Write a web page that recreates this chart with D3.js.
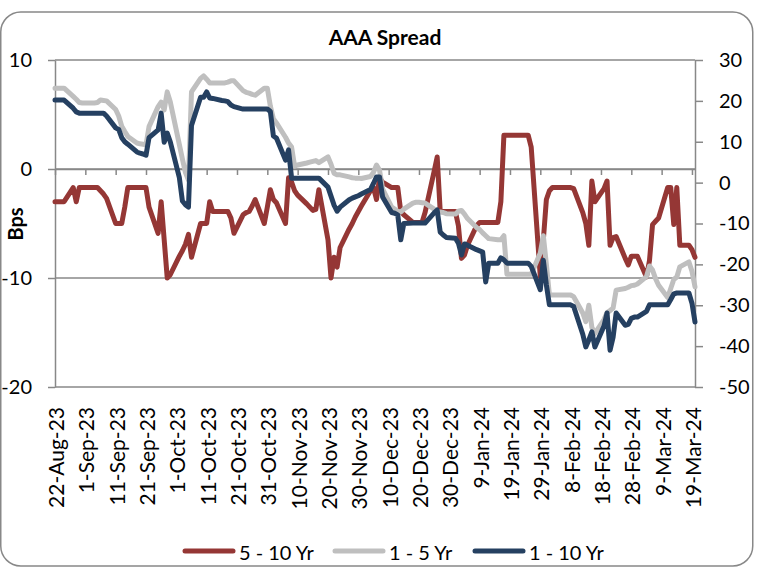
<!DOCTYPE html>
<html>
<head>
<meta charset="utf-8">
<script src="https://cdn.jsdelivr.net/npm/d3@7"></script>
<style>
  html, body { margin: 0; padding: 0; background: #fff; }
  svg { display: block; font-family: Lato, "Open Sans", sans-serif; }
</style>
</head>
<body>
<div id="chart"></div>
<script>
// business days, 22-Aug-23 .. 20-Mar-24
const dates = [
  "22-Aug-23","23-Aug-23","24-Aug-23","25-Aug-23","28-Aug-23","29-Aug-23","30-Aug-23","31-Aug-23",
  "1-Sep-23","4-Sep-23","5-Sep-23","6-Sep-23","7-Sep-23","8-Sep-23","11-Sep-23","12-Sep-23","13-Sep-23","14-Sep-23","15-Sep-23",
  "18-Sep-23","19-Sep-23","20-Sep-23","21-Sep-23","22-Sep-23","25-Sep-23","26-Sep-23","27-Sep-23","28-Sep-23","29-Sep-23",
  "2-Oct-23","3-Oct-23","4-Oct-23","5-Oct-23","6-Oct-23","9-Oct-23","10-Oct-23","11-Oct-23","12-Oct-23","13-Oct-23",
  "16-Oct-23","17-Oct-23","18-Oct-23","19-Oct-23","20-Oct-23","23-Oct-23","24-Oct-23","25-Oct-23","26-Oct-23","27-Oct-23","30-Oct-23","31-Oct-23",
  "1-Nov-23","2-Nov-23","3-Nov-23","6-Nov-23","7-Nov-23","8-Nov-23","9-Nov-23","10-Nov-23","13-Nov-23","14-Nov-23","15-Nov-23",
  "16-Nov-23","17-Nov-23","20-Nov-23","21-Nov-23","22-Nov-23","23-Nov-23","24-Nov-23","27-Nov-23","28-Nov-23","29-Nov-23","30-Nov-23",
  "1-Dec-23","4-Dec-23","5-Dec-23","6-Dec-23","7-Dec-23","8-Dec-23","11-Dec-23","12-Dec-23","13-Dec-23","14-Dec-23","15-Dec-23",
  "18-Dec-23","19-Dec-23","20-Dec-23","21-Dec-23","22-Dec-23","25-Dec-23","26-Dec-23","27-Dec-23","28-Dec-23","29-Dec-23",
  "1-Jan-24","2-Jan-24","3-Jan-24","4-Jan-24","5-Jan-24","8-Jan-24","9-Jan-24","10-Jan-24","11-Jan-24","12-Jan-24",
  "15-Jan-24","16-Jan-24","17-Jan-24","18-Jan-24","19-Jan-24","22-Jan-24","23-Jan-24","24-Jan-24","25-Jan-24","26-Jan-24","29-Jan-24","30-Jan-24","31-Jan-24",
  "1-Feb-24","2-Feb-24","5-Feb-24","6-Feb-24","7-Feb-24","8-Feb-24","9-Feb-24","12-Feb-24","13-Feb-24","14-Feb-24","15-Feb-24","16-Feb-24",
  "19-Feb-24","20-Feb-24","21-Feb-24","22-Feb-24","23-Feb-24","26-Feb-24","27-Feb-24","28-Feb-24","29-Feb-24",
  "1-Mar-24","4-Mar-24","5-Mar-24","6-Mar-24","7-Mar-24","8-Mar-24","11-Mar-24","12-Mar-24","13-Mar-24","14-Mar-24","15-Mar-24",
  "18-Mar-24","19-Mar-24","20-Mar-24"
];

// 5 - 10 Yr, left axis (bps)
const spread5to10 = [
  -3, -3, -3, -3, -1.7, -3, -1.7, -1.7,
  -1.7, -1.7, -1.7, -2, -2.3, -2.7, -5, -5, -5, -3.5, -1.7, -1.7, -1.7, -1.7, -1.7, -3.5, -5.9, -3, -6.5, -10, -9.7,
  -8, -7.5, -6.9, -6, -8.1, -5, -5, -5, -3, -3.9, -3.9, -3.9, -3.9, -4.5, -5.9, -4.2, -4, -3.9, -3.4, -2.8, -5, -3.5,
  -1.9, -2.8, -3.1, -5, -0.8, -1.2, -2, -2.4, -3.2, -3.5, -3.8, -3.7, -1.9, -6.5, -10, -8.1, -9, -7.2, -5.5, -5, -4.4, -3.9,
  -3.4, -2, -1.7, -2.8, -0.8, -1.2, -1.7, -1.7, -1.7, -3.9, -4.2, -4.9, -4.9, -4.9, -4.9, -4, -0.2, 1.1, -3.9, -3.9, -3.9,
  -3.9, -5.2, -8.2, -7.9, -7, -5.2, -4.9, -4.9, -4.9, -4.9, -4.9, -3, 3.1, 3.1, 3.1, 3.1, 3.1, 3.1, 3.1, 2, -9.9, -6.5, -2.8,
  -2, -1.7, -1.7, -1.7, -1.7, -1.7, -1.8, -4, -5, -7, -1.1, -3, -1.8, -1.1, -7, -6.3, -6.2, -8.2, -8.8, -8, -8,
  -8, -9.9, -8.4, -5.1, -4.8, -4.5, -1.7, -1.7, -5.1, -1.7, -7, -7, -7.4, -8.1
];

// 1 - 5 Yr, right axis (bps)
const spread1to5 = [
  23.1, 23.1, 23.1, 23.1, 21.1, 20.4, 19.6, 19.5,
  19.5, 19.5, 19.6, 20.2, 20.1, 20, 17.9, 16.3, 13.8, 12.5, 11.3, 9.7, 9.5, 9.4, 9.2, 13.7, 18.6, 19.7, 17.8, 22.2, 19.8,
  9.3, 5.8, 2.5, 0.6, 22.2, 25.5, 26.1, 25.3, 24.4, 24.4, 24.4, 24.4, 24.6, 24.9, 24.9, 22.5, 22.1, 21.9, 21.6, 21.4, 23.1, 23.1,
  18.7, 15.6, 14.6, 11.1, 9.7, 8.7, 4, 4.3, 4.8, 5, 5.2, 5.4, 4.9, 6.3, 4.5, 2.3, 1.9, 1.9, 1.4, 1.2, 1.1, 1.1,
  1, 1.5, 2.5, 4.3, 3, -1.5, -6, -6.5, -7, -7.2, -6.5, -5, -4.8, -4.8, -4.9, -5, -6.5, -7, -7.2, -7.3, -7.6,
  -7.7, -7, -6.8, -7.7, -8.8, -11, -11.5, -12.3, -13, -13.7, -14, -14, -13, -22.4, -22.4, -22.4, -22.4, -22.4, -22.4, -22.4, -17.2, -13, -20,
  -27.5, -27.5, -27.5, -27.5, -27.5, -27.5, -27.9, -31.9, -34, -30, -35.4, -36.9, -33.5, -31.8, -31.3, -30.7, -26.3, -25.9, -25.6, -25.2, -25.1,
  -24.8, -23, -20.4, -21.4, -23.5, -25.1, -28.1, -25.9, -23.7, -23.1, -20.6, -19.4, -21.7, -25.5
];

// 1 - 10 Yr, right axis (bps)
const spread1to10 = [
  20.2, 20.2, 20.2, 20.2, 18.2, 17.3, 17, 17,
  17, 17, 17, 17, 17, 16.3, 13.4, 13, 11, 10, 9.4, 7.5, 7.2, 7, 6.7, 11, 12.9, 17, 9.9, 12.1, 10,
  1.2, -4.5, -5.4, -6, 14, 20.9, 20.9, 22.2, 20.7, 20.6, 20.1, 20, 19.8, 19, 18.6, 18, 18, 18, 18, 18, 18, 18,
  17.4, 11.4, 10.9, 5.5, 8, 1.1, 1.1, 1.1, 1.1, 1.1, 1.1, 1.1, 1.1, -1.1, -3.3, -5.5, -7, -6, -4.2, -3.8, -3.5, -3.2,
  -2.8, -1.7, -0.2, 1.4, 1.4, -3.5, -7.3, -7.5, -7.9, -14, -10, -9.9, -9.9, -9.9, -9.9, -9.9, -7.4, -6.7, -12.1, -12.8, -13.4,
  -13.6, -14.8, -17.7, -15, -15.3, -16.4, -16.7, -17, -24.3, -19.7, -19.7, -18.4, -18.9, -19.7, -19.7, -19.7, -19.7, -19.7, -19.7, -20.5, -26.2, -19, -25,
  -29.9, -29.9, -29.9, -29.9, -29.9, -29.9, -30.3, -37.1, -40.2, -38.5, -36.5, -40.2, -35.1, -31.9, -41, -37.8, -31.9, -34.9, -34.7, -33.2, -32.9,
  -32.9, -31.5, -29.9, -29.9, -29.9, -29.9, -29.9, -28.6, -27.2, -27, -27, -27, -29.5, -34.1
];

const tickDates = ["22-Aug-23","1-Sep-23","11-Sep-23","21-Sep-23","1-Oct-23","11-Oct-23","21-Oct-23","31-Oct-23",
  "10-Nov-23","20-Nov-23","30-Nov-23","10-Dec-23","20-Dec-23","30-Dec-23","9-Jan-24","19-Jan-24","29-Jan-24",
  "8-Feb-24","18-Feb-24","28-Feb-24","9-Mar-24","19-Mar-24"];
const leftTicks = [10, 0, -10, -20];
const rightTicks = [30, 20, 10, 0, -10, -20, -30, -40, -50];
const seriesNames = ["5 - 10 Yr", "1 - 5 Yr", "1 - 10 Yr"];

var parseDate = d3.utcParse("%d-%b-%y");
var fmtDate = d3.utcFormat("%-d-%b-%y");

var W = 762, H = 571;
var plot = { left: 55, right: 695, top: 60, bottom: 387 };
var gridColor = "#888888";

var svg = d3.select("#chart")
	.append("svg")
	.attr("width", W)
	.attr("height", H);

// outer chart frame
svg.append("rect")
	.attr("x", 0.75).attr("y", 12)
	.attr("width", 752).attr("height", 554)
	.attr("rx", 20)
	.attr("fill", "none")
	.attr("stroke", gridColor)
	.attr("stroke-width", 1.5);

var x = d3.scaleUtc()
	.domain([parseDate(dates[0]), parseDate(dates[dates.length - 1])])
	.range([plot.left, plot.right]);
var yLeft = d3.scaleLinear().domain([-20, 10]).range([plot.bottom, plot.top]);
var yRight = d3.scaleLinear().domain([-50, 30]).range([plot.bottom, plot.top]);

// horizontal gridlines (left axis)
svg.append("g")
	.selectAll("line")
	.data(leftTicks)
	.join("line")
	.attr("x1", plot.left).attr("x2", plot.right)
	.attr("y1", d => yLeft(d)).attr("y2", d => yLeft(d))
	.attr("stroke", gridColor)
	.attr("stroke-width", 1.5);

var styleAxis = (g) => {
	g.selectAll(".domain").attr("stroke", gridColor).attr("stroke-width", 1.5);
	g.selectAll(".tick line").attr("stroke", gridColor).attr("stroke-width", 1.5);
	g.selectAll(".tick text").attr("fill", "#000").style("font-size", "20px")
		.style("font-family", "Lato, 'Open Sans', sans-serif");
};

svg.append("g")
	.attr("transform", "translate(" + plot.left + ",0)")
	.call(d3.axisLeft(yLeft).tickValues(leftTicks).tickSize(7).tickSizeOuter(0).tickPadding(16)
		.tickFormat(d => String(d)))
	.call(styleAxis);

svg.append("g")
	.attr("transform", "translate(" + plot.right + ",0)")
	.call(d3.axisRight(yRight).tickValues(rightTicks).tickSize(8).tickSizeOuter(0).tickPadding(16)
		.tickFormat(d => String(d)))
	.call(styleAxis);

// date axis sits on the zero line, labels hang below the plot
var tickValues = tickDates.map(parseDate);
svg.append("g")
	.attr("transform", "translate(0," + yLeft(0) + ")")
	.call(d3.axisBottom(x).tickValues(tickValues).tickSize(6).tickSizeOuter(0).tickFormat(""))
	.call(styleAxis);

svg.append("g")
	.selectAll("text")
	.data(tickValues)
	.join("text")
	.attr("transform", d => "translate(" + x(d) + ",407) rotate(-90)")
	.attr("dy", "0.43em")
	.attr("text-anchor", "end")
	.style("font-size", "21px")
	.text(d => fmtDate(d));

// series
var series = [
	{ name: seriesNames[0], values: spread5to10, y: yLeft, color: "#953735" },
	{ name: seriesNames[1], values: spread1to5, y: yRight, color: "#bfbfbf" },
	{ name: seriesNames[2], values: spread1to10, y: yRight, color: "#254061" }
];

series.forEach(s => {
	var pts = dates.map((d, i) => ({ date: parseDate(d), v: s.values[i] }));
	var line = d3.line()
		.x(d => x(d.date))
		.y(d => s.y(d.v));
	svg.append("path")
		.datum(pts)
		.attr("d", line)
		.attr("fill", "none")
		.attr("stroke", s.color)
		.attr("stroke-width", 5)
		.attr("stroke-linejoin", "round")
		.attr("stroke-linecap", "round");
});

// title and axis label
svg.append("text")
	.attr("x", 385).attr("y", 45)
	.attr("text-anchor", "middle")
	.style("font-size", "21px")
	.style("font-weight", "bold")
	.text("AAA Spread");

svg.append("text")
	.attr("transform", "translate(23,224) rotate(-90)")
	.attr("text-anchor", "middle")
	.style("font-size", "20px")
	.style("font-weight", "bold")
	.text("Bps");

// legend
var legendX = [185, 335, 475];
var legend = svg.append("g")
	.selectAll("g")
	.data(series)
	.join("g")
	.attr("transform", (d, i) => "translate(" + legendX[i] + ",551)");
legend.append("line")
	.attr("x1", 0).attr("x2", 48)
	.attr("stroke", d => d.color)
	.attr("stroke-width", 5)
	.attr("stroke-linecap", "round");
legend.append("text")
	.attr("x", 54)
	.attr("y", 2)
	.attr("dy", "0.35em")
	.style("font-size", "20px")
	.text(d => d.name);
</script>
</body>
</html>
